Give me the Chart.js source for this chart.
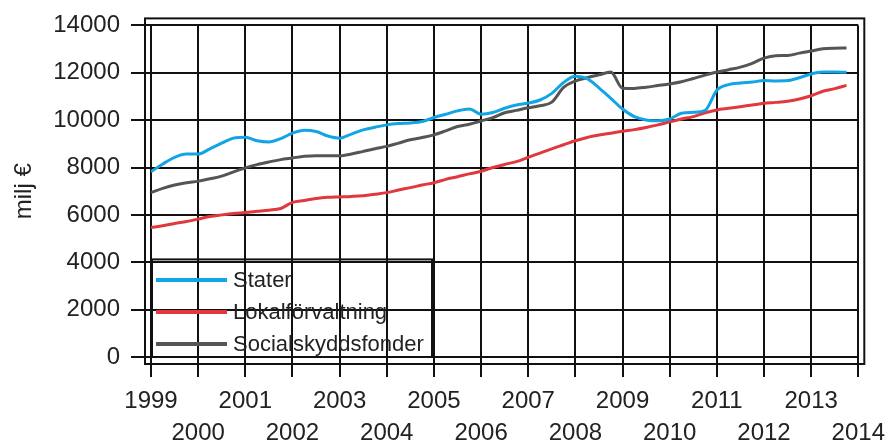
<!DOCTYPE html>
<html>
<head>
<meta charset="utf-8">
<script src="https://cdn.jsdelivr.net/npm/chart.js@4/dist/chart.umd.min.js"></script>
<style>
  html, body { margin: 0; padding: 0; background: #fff; }
  #wrap { width: 893px; height: 446px; position: relative; }
</style>
</head>
<body>
<div id="wrap"><canvas id="c" width="893" height="446"></canvas></div>
<script>
// ---- Data (quarterly, 1999Q1 .. 2013Q4), milj € ----
const startYear = 1999;
const endYear = 2014;
const quarters = [];
for (let y = 1999; y <= 2013; y++) for (let q = 1; q <= 4; q++) quarters.push(y + 'Q' + q);

const seriesNames = ['Stater', 'Lokalförvaltning', 'Socialskyddsfonder'];

const stater = [
  7820, 8150, 8430, 8570, 8570, 8790, 9030, 9240, 9280, 9130, 9080, 9220,
  9450, 9570, 9520, 9330, 9240, 9410, 9590, 9700, 9800, 9855, 9880, 9940,
  10110, 10250, 10390, 10470, 10250, 10320, 10500, 10640, 10720, 10850, 11130, 11590,
  11850, 11750, 11360, 10920, 10470, 10150, 10010, 9970, 10050, 10290, 10330, 10410,
  11265, 11500, 11570, 11610, 11670, 11655, 11670, 11790, 11950, 12030, 12030, 12020
];
const lokal = [
  5470, 5540, 5640, 5720, 5820, 5930, 6000, 6060, 6100, 6150, 6200, 6270,
  6530, 6610, 6690, 6740, 6760, 6780, 6810, 6870, 6940, 7050, 7150, 7260,
  7360, 7500, 7610, 7730, 7840, 8000, 8130, 8250, 8430, 8610, 8790, 8960,
  9130, 9270, 9370, 9450, 9530, 9600, 9690, 9800, 9930, 10050, 10150, 10310,
  10430, 10500, 10570, 10640, 10710, 10750, 10800, 10890, 11030, 11220, 11330, 11470
];
const social = [
  6940, 7120, 7260, 7355, 7425, 7523, 7635, 7816, 7984, 8123, 8235, 8333,
  8402, 8472, 8500, 8500, 8500, 8570, 8682, 8794, 8891, 9031, 9170, 9268,
  9380, 9547, 9729, 9826, 9966, 10106, 10310, 10413, 10525, 10608, 10760, 11380,
  11650, 11790, 11910, 12030, 11350, 11340, 11390, 11460, 11530, 11620, 11760, 11900,
  12030, 12130, 12240, 12400, 12620, 12720, 12730, 12830, 12920, 13010, 13040, 13050
];
const yTicks = [0, 2000, 4000, 6000, 8000, 10000, 12000, 14000];
const yTitle = 'milj €';

const colors = ['#12a4e4', '#e0383c', '#555555'];

function toXY(values) {
  return values.map((v, i) => {
    const parts = quarters[i].split('Q');
    return { x: Number(parts[0]) + (Number(parts[1]) - 1) / 4, y: v };
  });
}

const FONT = "'Liberation Sans', Arial, sans-serif";

// Outer frame + in-chart legend
const framePlugin = {
  id: 'frame',
  beforeDraw(chart) {
    const ctx = chart.ctx;
    ctx.save();
    ctx.fillStyle = '#fff';
    ctx.fillRect(0, 0, chart.width, chart.height);
    ctx.restore();
  },
  afterDraw(chart) {
    const ctx = chart.ctx;
    const a = chart.chartArea;
    ctx.save();
    ctx.strokeStyle = '#111';
    ctx.lineWidth = 2;
    ctx.strokeRect(a.left - 6, a.top - 7, (a.right - a.left) + 12, (a.bottom - a.top) + 14);
    // legend box
    const lx = a.left + 1, ly = a.top + 234, lw = 280, lh = a.bottom - (a.top + 234);
    ctx.lineWidth = 2;
    ctx.strokeRect(lx, ly, lw, lh);
    ctx.font = '22px ' + FONT;
    ctx.textBaseline = 'middle';
    ctx.textAlign = 'left';
    chart.data.datasets.forEach((ds, i) => {
      const y = ly + 20.5 + i * 32;
      ctx.strokeStyle = ds.borderColor;
      ctx.lineWidth = 4;
      ctx.beginPath();
      ctx.moveTo(lx + 4, y);
      ctx.lineTo(lx + 75, y);
      ctx.stroke();
      ctx.fillStyle = '#222';
      ctx.fillText(ds.label, lx + 81, y + 1);
    });
    ctx.restore();
  }
};

new Chart(document.getElementById('c'), {
  type: 'line',
  data: {
    datasets: [
      { label: seriesNames[0], data: toXY(stater), borderColor: colors[0] },
      { label: seriesNames[1], data: toXY(lokal), borderColor: colors[1] },
      { label: seriesNames[2], data: toXY(social), borderColor: colors[2] }
    ].map(d => Object.assign(d, {
      borderWidth: 3, pointRadius: 0, tension: 0.3, fill: false,
      cubicInterpolationMode: 'monotone', backgroundColor: d.borderColor
    }))
  },
  options: {
    responsive: false,
    animation: false,
    layout: { padding: { top: 23, right: 29, left: 0, bottom: 0 } },
    plugins: { legend: { display: false }, tooltip: { enabled: false } },
    scales: {
      x: {
        type: 'linear',
        min: startYear, max: endYear,
        afterFit(s) { s.height = 89; },
        afterBuildTicks(s) {
          const t = [];
          for (let y = startYear; y <= endYear; y++) t.push({ value: y });
          s.ticks = t;
        },
        grid: { color: '#111', lineWidth: 2, tickLength: 20, drawTicks: true },
        border: { display: true, color: '#111', width: 2 },
        ticks: {
          autoSkip: false, maxRotation: 0, minRotation: 0, padding: 8,
          color: '#222',
          font: { family: FONT, size: 24, lineHeight: 1.35 },
          callback(v) { return (v % 2 === 1) ? String(v) : ['', String(v)]; }
        }
      },
      y: {
        type: 'linear',
        min: 0, max: 14000,
        afterFit(s) { s.width = 151; },
        afterBuildTicks(s) { s.ticks = yTicks.map(v => ({ value: v })); },
        grid: { color: '#111', lineWidth: 2, tickLength: 20, drawTicks: true },
        border: { display: true, color: '#111', width: 2 },
        title: {
          display: true, text: yTitle, color: '#222',
          font: { family: FONT, size: 24 }, padding: { top: 10, bottom: 0 }
        },
        ticks: {
          padding: 11, color: '#222',
          font: { family: FONT, size: 24 },
          callback(v) { return String(v); }
        }
      }
    }
  },
  plugins: [framePlugin]
});
</script>
</body>
</html>
